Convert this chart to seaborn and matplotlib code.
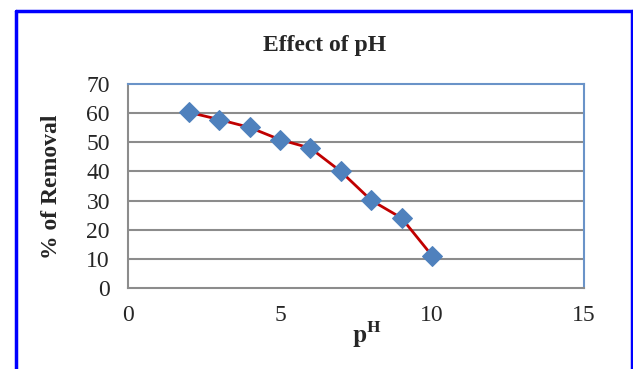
import matplotlib
matplotlib.use("Agg")
import matplotlib.pyplot as plt
import seaborn as sns
import pandas as pd
from matplotlib.lines import Line2D

ph = [2, 3, 4, 5, 6, 7, 8, 9, 10]
removal = [60.3, 57.8, 55.1, 50.9, 48.0, 40.0, 30.1, 24.0, 11.1]
x_ticks = [0, 5, 10, 15]
y_ticks = [0, 10, 20, 30, 40, 50, 60, 70]

sns.set_style("white")
plt.rcParams['font.family'] = ['Liberation Serif', 'DejaVu Serif']
plt.rcParams['mathtext.fontset'] = 'stix'

df = pd.DataFrame({"pH": ph, "Removal": removal})

fig = plt.figure(figsize=(6.33, 3.69), dpi=100)
ax = fig.add_axes([128/633, 1-288/369, (584-128)/633, (288-84)/369])

for y in y_ticks[1:-1]:
    ax.axhline(y, color="#8c8c8c", lw=1.5, zorder=0)

sns.lineplot(data=df, x="pH", y="Removal", ax=ax, color="#c00000", lw=2,
             marker="D", markersize=10, markerfacecolor="#4f81bd",
             markeredgecolor="#4f81bd", zorder=3)

ax.set_xlim(0, 15)
ax.set_ylim(0, 70)
ax.set_xticks(x_ticks)
ax.set_yticks(y_ticks)
ax.tick_params(axis="both", length=0, labelsize=17)
ax.tick_params(axis="x", pad=12)
ax.tick_params(axis="y", pad=13)

for s in ["left", "bottom"]:
    ax.spines[s].set_color("#8c8c8c")
    ax.spines[s].set_linewidth(1.5)
for s in ["top", "right"]:
    ax.spines[s].set_color("#6a93c8")
    ax.spines[s].set_linewidth(1.5)

ax.set_xlabel(r"$\mathbf{p^{H}}$", fontsize=18)
ax.xaxis.set_label_coords((367-128)/456, -(320-288)/204)
ax.set_ylabel("% of Removal", fontsize=17, fontweight="bold")
ax.yaxis.set_label_coords(-(128-62)/456, (288-187)/204)

fig.text(325/633, 1-45/369, "Effect of pH", fontsize=17, fontweight="bold",
         ha="center", va="center")

# outer blue border (no bottom edge visible)
bc = "#0000ff"
fig.add_artist(Line2D([15.5/633, 15.5/633], [0, 1-10.5/369], color=bc, lw=2.5, transform=fig.transFigure))
fig.add_artist(Line2D([15.5/633, 631.5/633], [1-10.5/369, 1-10.5/369], color=bc, lw=2.5, transform=fig.transFigure))
fig.add_artist(Line2D([631.5/633, 631.5/633], [0, 1-10.5/369], color=bc, lw=2.5, transform=fig.transFigure))

fig.savefig("out.png", dpi=100)
